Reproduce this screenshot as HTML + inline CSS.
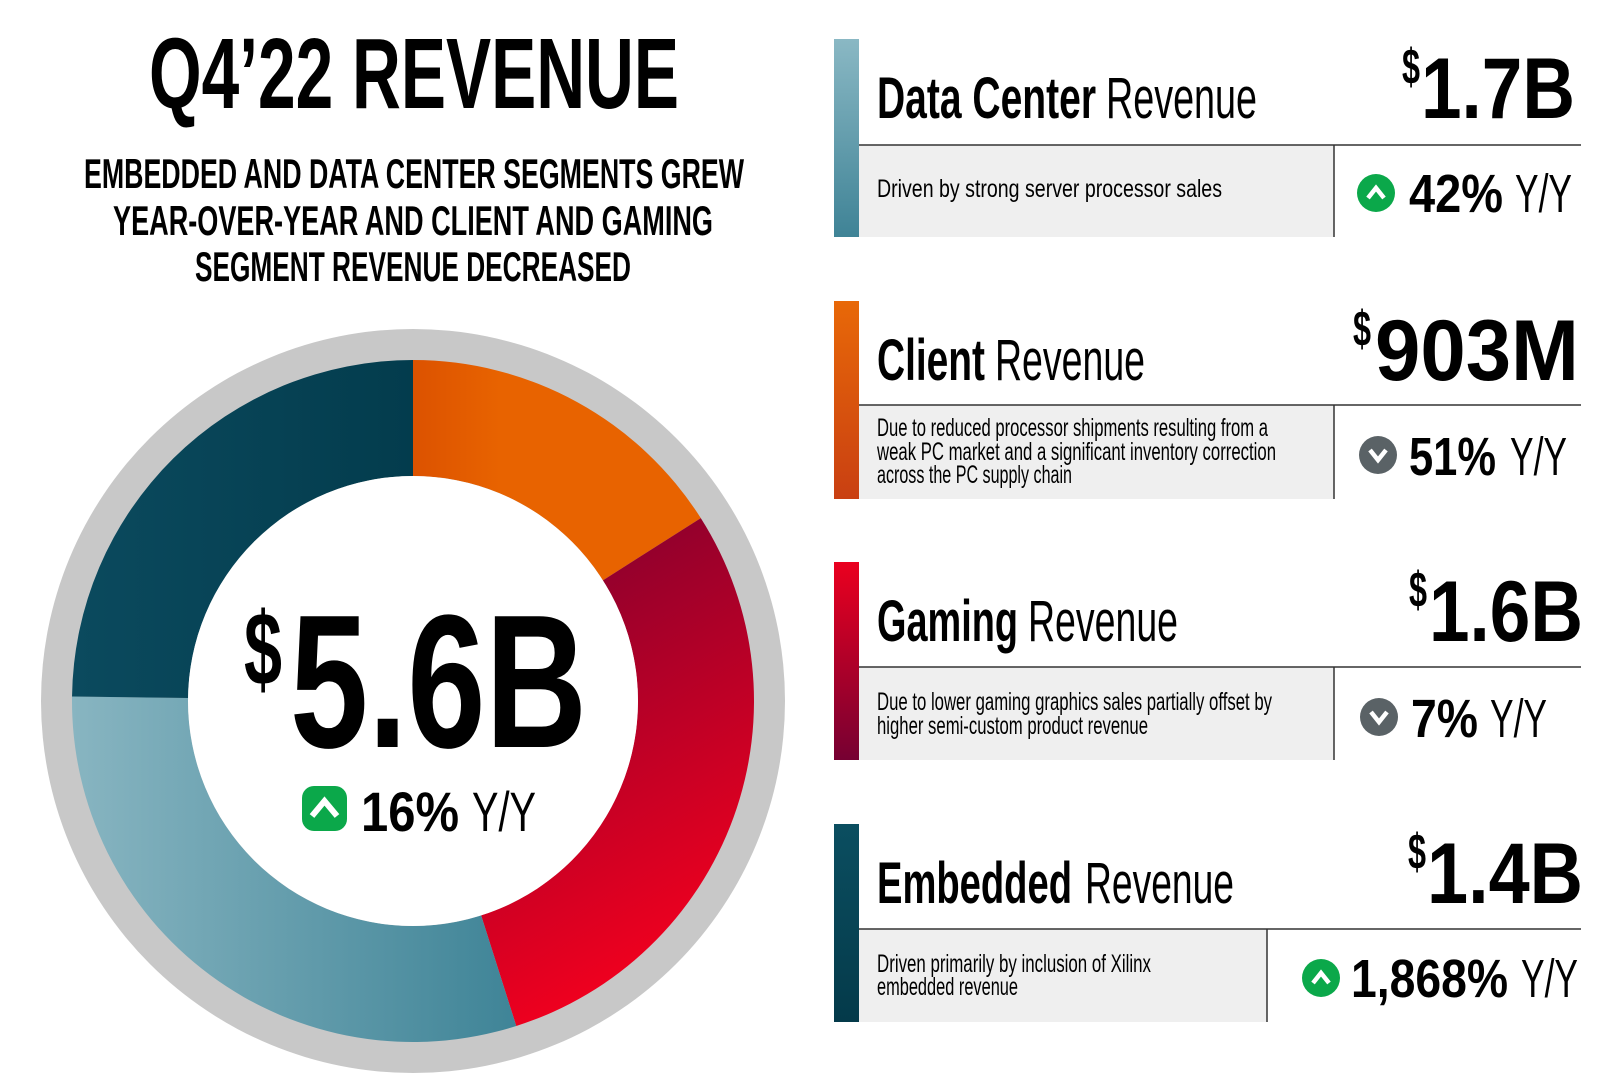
<!DOCTYPE html>
<html><head><meta charset="utf-8"><style>
html,body{margin:0;padding:0;background:#fff;width:1600px;height:1073px;overflow:hidden}
svg{display:block}
text{font-family:"Liberation Sans Narrow","Liberation Sans",sans-serif}
.b{font-weight:700}
</style></head><body>
<svg id="chart" width="1600" height="1073" viewBox="0 0 1600 1073">
<defs>
<linearGradient id="gDC" x1="0" y1="0" x2="1" y2="0"><stop offset="0" stop-color="#88b5c1"/><stop offset="1" stop-color="#3f8497"/></linearGradient>
<linearGradient id="gEmb" x1="0" y1="0" x2="1" y2="0"><stop offset="0" stop-color="#0b4a5e"/><stop offset="1" stop-color="#033c4d"/></linearGradient>
<linearGradient id="gGam" x1="0" y1="0" x2="0.3" y2="1"><stop offset="0" stop-color="#7a0030"/><stop offset="1" stop-color="#f2001e"/></linearGradient>
<linearGradient id="gCli" x1="0" y1="0" x2="1" y2="0"><stop offset="0" stop-color="#dc5200"/><stop offset="0.3" stop-color="#e86300"/><stop offset="1" stop-color="#e86300"/></linearGradient>
<linearGradient id="bDC" x1="0" y1="0" x2="0" y2="1"><stop offset="0" stop-color="#8ab8c4"/><stop offset="1" stop-color="#3f8396"/></linearGradient>
<linearGradient id="bCli" x1="0" y1="0" x2="0" y2="1"><stop offset="0" stop-color="#e86808"/><stop offset="1" stop-color="#c94012"/></linearGradient>
<linearGradient id="bGam" x1="0" y1="0" x2="0" y2="1"><stop offset="0" stop-color="#ea001f"/><stop offset="1" stop-color="#760032"/></linearGradient>
<linearGradient id="bEmb" x1="0" y1="0" x2="0" y2="1"><stop offset="0" stop-color="#0b4e60"/><stop offset="1" stop-color="#043a4a"/></linearGradient>
</defs>

<text class="b" x="149" y="108" font-size="100" textLength="530" lengthAdjust="spacingAndGlyphs">Q4’22 REVENUE</text>
<text class="b" x="84" y="188" font-size="42" textLength="660" lengthAdjust="spacingAndGlyphs">EMBEDDED AND DATA CENTER SEGMENTS GREW</text>
<text class="b" x="113" y="235" font-size="42" textLength="600" lengthAdjust="spacingAndGlyphs">YEAR-OVER-YEAR AND CLIENT AND GAMING</text>
<text class="b" x="195" y="281" font-size="42" textLength="436" lengthAdjust="spacingAndGlyphs">SEGMENT REVENUE DECREASED</text>

<circle cx="413" cy="701" r="372" fill="#c8c8c8"/>
<g id="donut"></g>
<circle cx="413" cy="701" r="225" fill="#fff"/>

<text class="b" x="244" y="685" font-size="104" textLength="38" lengthAdjust="spacingAndGlyphs">$</text>
<text class="b" x="290" y="747" font-size="190" textLength="297" lengthAdjust="spacingAndGlyphs">5.6B</text>
<rect x="302" y="786" width="45" height="45" rx="12" fill="#0ba84a"/>
<path d="M312 816 L324.5 801 L337 816" stroke="#fff" stroke-width="6" fill="none"/>
<text class="b" x="361" y="831" font-size="56" textLength="98" lengthAdjust="spacingAndGlyphs">16%</text>
<text x="472" y="831" font-size="56" textLength="64" lengthAdjust="spacingAndGlyphs">Y/Y</text>

<g id="cards" transform="translate(-5,0)"></g>
</svg>
<script>
const segments = ["Client", "Gaming", "Data Center", "Embedded"];
const revenue = [0.903, 1.644, 1.7, 1.4];
const fills = ["url(#gCli)", "url(#gGam)", "url(#gDC)", "url(#gEmb)"];

const NS = "http://www.w3.org/2000/svg";
const cx = 413, cy = 701, rO = 341, rI = 225;
const total = revenue.reduce((a, b) => a + b, 0);
function ang(v) { return v / total * 2 * Math.PI; }
function pt(r, a) { return [cx + r * Math.sin(a), cy - r * Math.cos(a)]; }
const donut = document.getElementById('donut');
let acc = 0;
revenue.forEach((v, i) => {
  const a0 = ang(acc), a1 = ang(acc + v); acc += v;
  const large = (a1 - a0) > Math.PI ? 1 : 0;
  const p0 = pt(rO, a0), p1 = pt(rO, a1), p2 = pt(rI, a1), p3 = pt(rI, a0);
  const p = document.createElementNS(NS, 'path');
  p.setAttribute('d', `M${p0} A${rO},${rO} 0 ${large} 1 ${p1} L${p2} A${rI},${rI} 0 ${large} 0 ${p3} Z`);
  p.setAttribute('fill', fills[i]);
  
  
  donut.appendChild(p);
});

const cardTitles = ["Data Center", "Client", "Gaming", "Embedded"];
const cardValues = ["1.7B", "903M", "1.6B", "1.4B"];
const cardChanges = ["42%", "51%", "7%", "1,868%"];
const cardUp = [true, false, false, true];
const cardDesc = [["Driven by strong server processor sales"],
 ["Due to reduced processor shipments resulting from a", "weak PC market and a significant inventory correction", "across the PC supply chain"],
 ["Due to lower gaming graphics sales partially offset by", "higher semi-custom product revenue"],
 ["Driven primarily by inclusion of Xilinx", "embedded revenue"]];

const L = [
 {top:39, bar:'url(#bDC)', tw:219, rx:1111, rw:151, vx:1426, vw:154, dol:1407, line:145, bot:237, div:1339, dy:[197], dw:[345], ic:1381, iy:193, px:1414, pw:94, yx:1520, base:212},
 {top:301, bar:'url(#bCli)', tw:108, rx:1000, rw:150, vx:1380, vw:204, dol:1358, line:405, bot:499, div:1339, dy:[436,460,483], dw:[391,399,195], ic:1383, iy:455, px:1414, pw:87, yx:1515, base:475},
 {top:562, bar:'url(#bGam)', tw:141, rx:1033, rw:150, vx:1434, vw:154, dol:1414, line:667, bot:760, div:1339, dy:[710,734], dw:[395,271], ic:1384, iy:717, px:1416, pw:67, yx:1495, base:737},
 {top:824, bar:'url(#bEmb)', tw:195, rx:1090, rw:149, vx:1432, vw:156, dol:1413, line:929, bot:1022, div:1272, dy:[972,995], dw:[274,141], ic:1326, iy:978, px:1356, pw:157, yx:1526, base:997}
];
const cards = document.getElementById('cards');
function el(tag, attrs, txt) {
  const e = document.createElementNS(NS, tag);
  for (const k in attrs) e.setAttribute(k, attrs[k]);
  if (txt !== undefined) e.textContent = txt;
  return e;
}
L.forEach((c, i) => {
  const g = el('g', {});
  
  
  g.appendChild(el('rect', {x:864, y:c.line, width:c.div-864, height:c.bot-c.line, fill:'#efefef'}));
  g.appendChild(el('rect', {x:839, y:c.top, width:25, height:c.bot-c.top, fill:c.bar}));
  g.appendChild(el('line', {x1:864, y1:c.line, x2:1586, y2:c.line, stroke:'#333', 'stroke-width':1.5}));
  g.appendChild(el('line', {x1:c.div, y1:c.line, x2:c.div, y2:c.bot, stroke:'#333', 'stroke-width':1.5}));
  const tb = c.top + 79;
  const t1 = el('text', {class:'b', x:882, y:tb, 'font-size':58, textLength:c.tw, lengthAdjust:'spacingAndGlyphs'}, cardTitles[i]);
  
  
  g.appendChild(t1);
  const t2 = el('text', {x:c.rx, y:tb, 'font-size':58, textLength:c.rw, lengthAdjust:'spacingAndGlyphs'}, 'Revenue');
  g.appendChild(t2);
  g.appendChild(el('text', {class:'b', x:c.dol, y:tb-34, 'font-size':50, textLength:18, lengthAdjust:'spacingAndGlyphs'}, '$'));
  const v = el('text', {class:'b', x:c.vx, y:tb, 'font-size':86, textLength:c.vw, lengthAdjust:'spacingAndGlyphs'}, cardValues[i]);
  
  
  g.appendChild(v);
  cardDesc[i].forEach((line, j) => {
    g.appendChild(el('text', {x:882, y:c.dy[j], 'font-size':25, textLength:c.dw[j], lengthAdjust:'spacingAndGlyphs'}, line));
  });
  const up = cardUp[i];
  g.appendChild(el('circle', {cx:c.ic, cy:c.iy, r:19, fill: up ? '#0ba84a' : '#5a6266'}));
  g.appendChild(el('path', {d: up ? `M${c.ic-8} ${c.iy+5} L${c.ic} ${c.iy-5} L${c.ic+8} ${c.iy+5}` : `M${c.ic-8} ${c.iy-5} L${c.ic} ${c.iy+5} L${c.ic+8} ${c.iy-5}`, stroke:'#fff', 'stroke-width':4.5, fill:'none'}));
  const pc = el('text', {class:'b', x:c.px, y:c.base, 'font-size':54, textLength:c.pw, lengthAdjust:'spacingAndGlyphs'}, cardChanges[i]);
  
  
  g.appendChild(pc);
  g.appendChild(el('text', {x:c.yx, y:c.base, 'font-size':54, textLength:57, lengthAdjust:'spacingAndGlyphs'}, 'Y/Y'));
  cards.appendChild(g);
});
</script>
</body></html>
